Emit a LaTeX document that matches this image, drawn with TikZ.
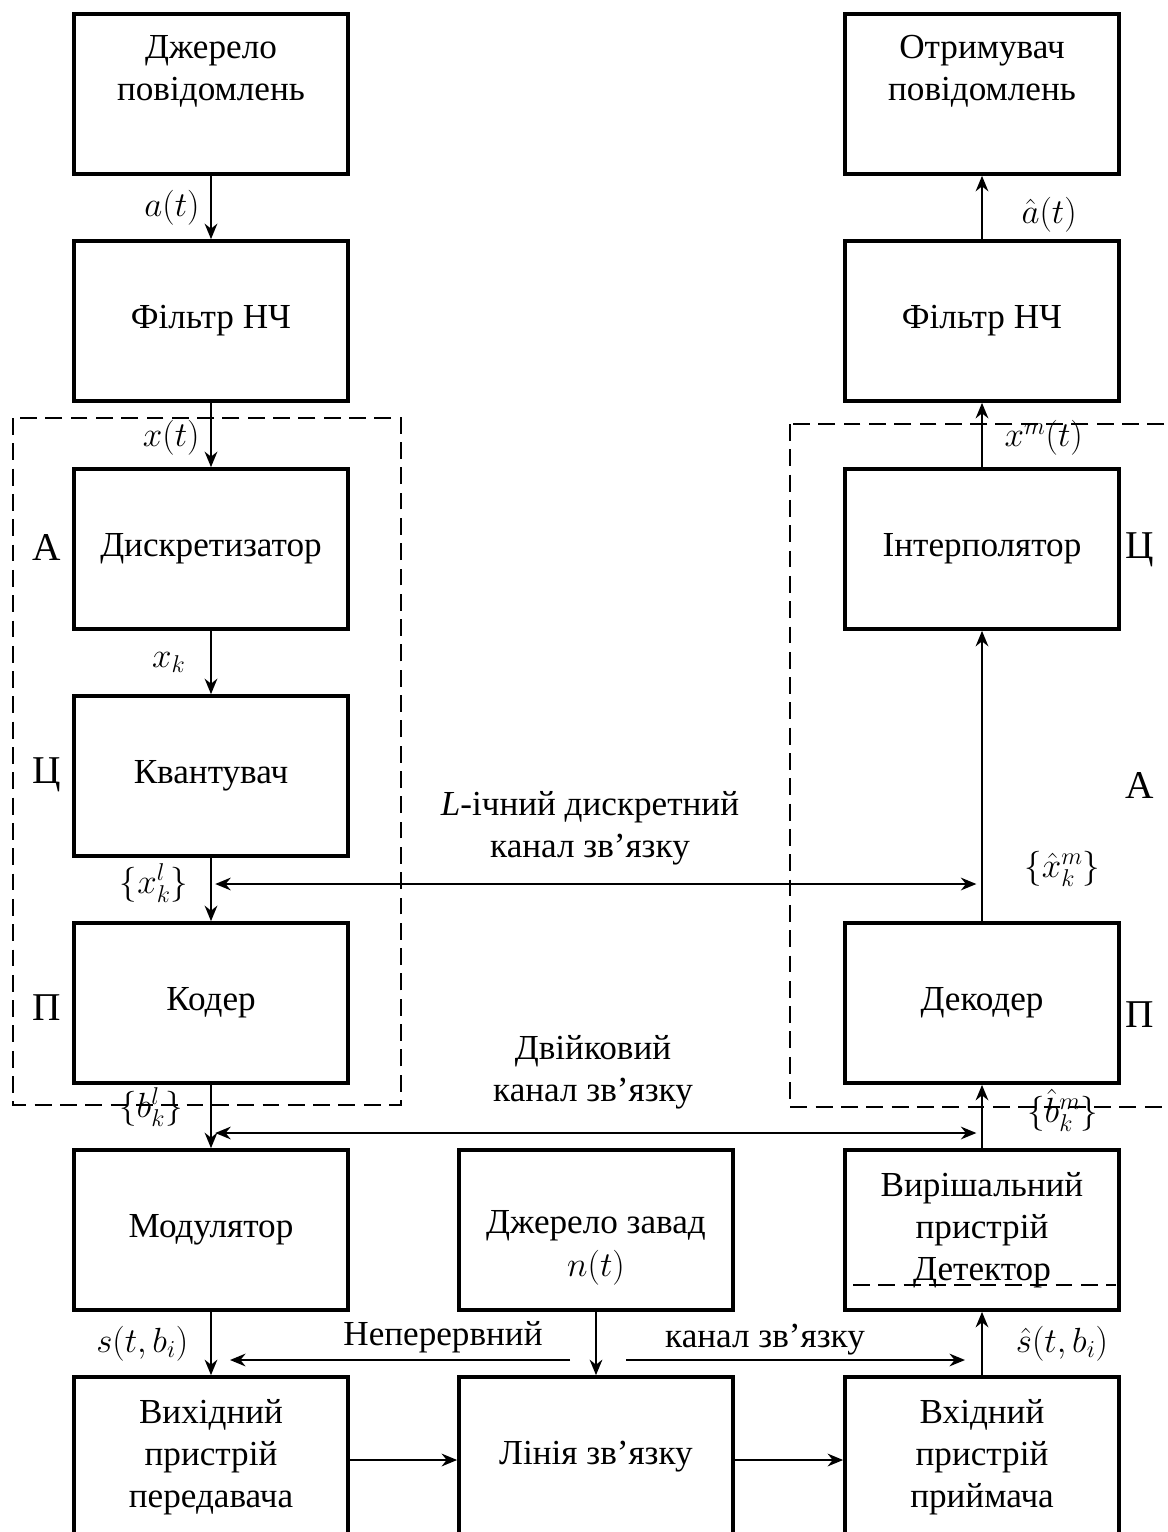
\documentclass[tikz,border=0pt]{standalone}
\usepackage{fontspec}
\setmainfont{Liberation Serif}
\usetikzlibrary{arrows.meta,positioning}

% text block moved up or down inside its box
\newcommand{\lifted}[2]{%
  \raisebox{#1}[0pt][0pt]{\begin{tabular}{@{}c@{}}#2\end{tabular}}}

\begin{document}
\begin{tikzpicture}[
  x=0.025cm, y=-0.025cm,
  font=\fontsize{25}{30}\selectfont,
  block/.style={
    draw, line width=2.6pt,
    minimum width=6.85cm,
    minimum height=4cm,
    align=center, inner sep=0pt},
  arrow/.style={
    -{Stealth[length=11pt,width=9pt]},
    line width=1.6pt},
  twoway/.style={
    {Stealth[length=11pt,width=9pt]}-{Stealth[length=11pt,width=9pt]},
    line width=1.6pt},
  zone/.style={
    draw, line width=1.4pt,
    dash pattern=on 12pt off 6pt},
  lsig/.style={left, xshift=-4pt},
  rsig/.style={right, xshift=12pt},
  part/.style={
    font=\fontsize{28}{30}\selectfont}
]
\useasboundingbox (0,0) rectangle (1167,1532);

% transmitter side
\node[block] (src) at (211,94)
  {\lifted{10pt}{Джерело\\повідомлень}};
\node[block] (lpfa) at (211,321)
  {Фільтр НЧ};
\node[block] (smp) at (211,549)
  {Дискретизатор};
\node[block] (qnt) at (211,776)
  {Квантувач};
\node[block] (cod) at (211,1003)
  {Кодер};
\node[block] (mod) at (211,1230)
  {Модулятор};
\node[block] (txo) at (211,1457)
  {Вихідний\\пристрій\\передавача};

% noise and line
\node[block] (noise) at (596,1230)
  {\lifted{-18pt}{Джерело завад\\$n(t)$}};
\node[block] (line) at (596,1457)
  {Лінія зв’язку};

% receiver side
\node[block] (dst) at (982,94)
  {\lifted{10pt}{Отримувач\\повідомлень}};
\node[block] (lpfb) at (982,321)
  {Фільтр НЧ};
\node[block] (itp) at (982,549)
  {Інтерполятор};
\node[block] (dec) at (982,1003)
  {Декодер};
\node[block] (det) at (982,1230)
  {Вирішальний\\пристрій\\Детектор};
\node[block] (rxi) at (982,1457)
  {Вхідний\\пристрій\\приймача};

\draw[line width=1.8pt, dash pattern=on 12pt off 6pt]
  (853,1285) -- (1116,1285);

% dashed zones
\draw[zone] (13,418) rectangle (401,1105);
\draw[zone] (790,424) rectangle (1180,1107);

% forward chain
\draw[arrow] (src) -- node[lsig] {$a(t)$} (lpfa);
\draw[arrow] (lpfa) -- node[lsig, pos=0.55] {$x(t)$} (smp);
\draw[arrow] (smp) -- node[lsig, xshift=-10pt] {$x_k$} (qnt);
\draw[arrow] (qnt) -- node[lsig, xshift=-8pt, pos=0.4] {$\{x_k^l\}$} (cod);
\draw[arrow] (cod) -- node[lsig, xshift=-12pt, pos=0.35] {$\{b_k^l\}$} (mod);
\draw[arrow] (mod) -- node[lsig, xshift=-8pt] {$s(t,b_i)$} (txo);
\draw[arrow] (txo.east |- 0,1460) -- (line.west |- 0,1460);
\draw[arrow] (line.east |- 0,1460) -- (rxi.west |- 0,1460);
\draw[arrow] (noise) -- (line);

% backward chain
\draw[arrow] (rxi) -- node[rsig, xshift=8pt] {$\hat{s}(t,b_i)$} (det);
\draw[arrow] (det) -- node[rsig, xshift=16pt, pos=0.6] {$\{\hat{b}_k^m\}$} (dec);
\draw[arrow] (dec) -- node[rsig, xshift=14pt, pos=0.18] {$\{\hat{x}_k^m\}$} (itp);
\draw[arrow] (itp) -- node[rsig, pos=0.45] {$x^m(t)$} (lpfb);
\draw[arrow] (lpfb) -- node[rsig, xshift=12pt, pos=0.38] {$\hat{a}(t)$} (dst);

% channels
\draw[twoway, shorten <=3pt, shorten >=4pt]
  (qnt.south |- 0,884) -- (dec.north |- 0,884);
\node[align=center] (dchan) at (590,828)
  {\textit{L}-ічний дискретний\\канал зв’язку};
\draw[twoway, shorten <=3pt, shorten >=4pt]
  (cod.south |- 0,1133) -- (det.north |- 0,1133);
\node[align=center] (bchan) at (593,1072)
  {Двійковий\\канал зв’язку};
\coordinate (cl) at (570,1360);
\coordinate (cr) at (626,1360);
\draw[arrow] (cl) -- (230,1360);
\draw[arrow] (cr) -- (965,1360);
\node (cchana) at (443,1337) {Неперервний};
\node (cchanb) at (765,1340) {канал зв’язку};

% level marks
\node[part] (la1) at (47,547) {А};
\node[part] (lc1) at (47,775) {Ц};
\node[part] (lp1) at (47,1008) {П};
\node[part] (lc2) at (1140,550) {Ц};
\node[part] (la2) at (1140,785) {А};
\node[part] (lp2) at (1140,1015) {П};

\end{tikzpicture}
\end{document}
